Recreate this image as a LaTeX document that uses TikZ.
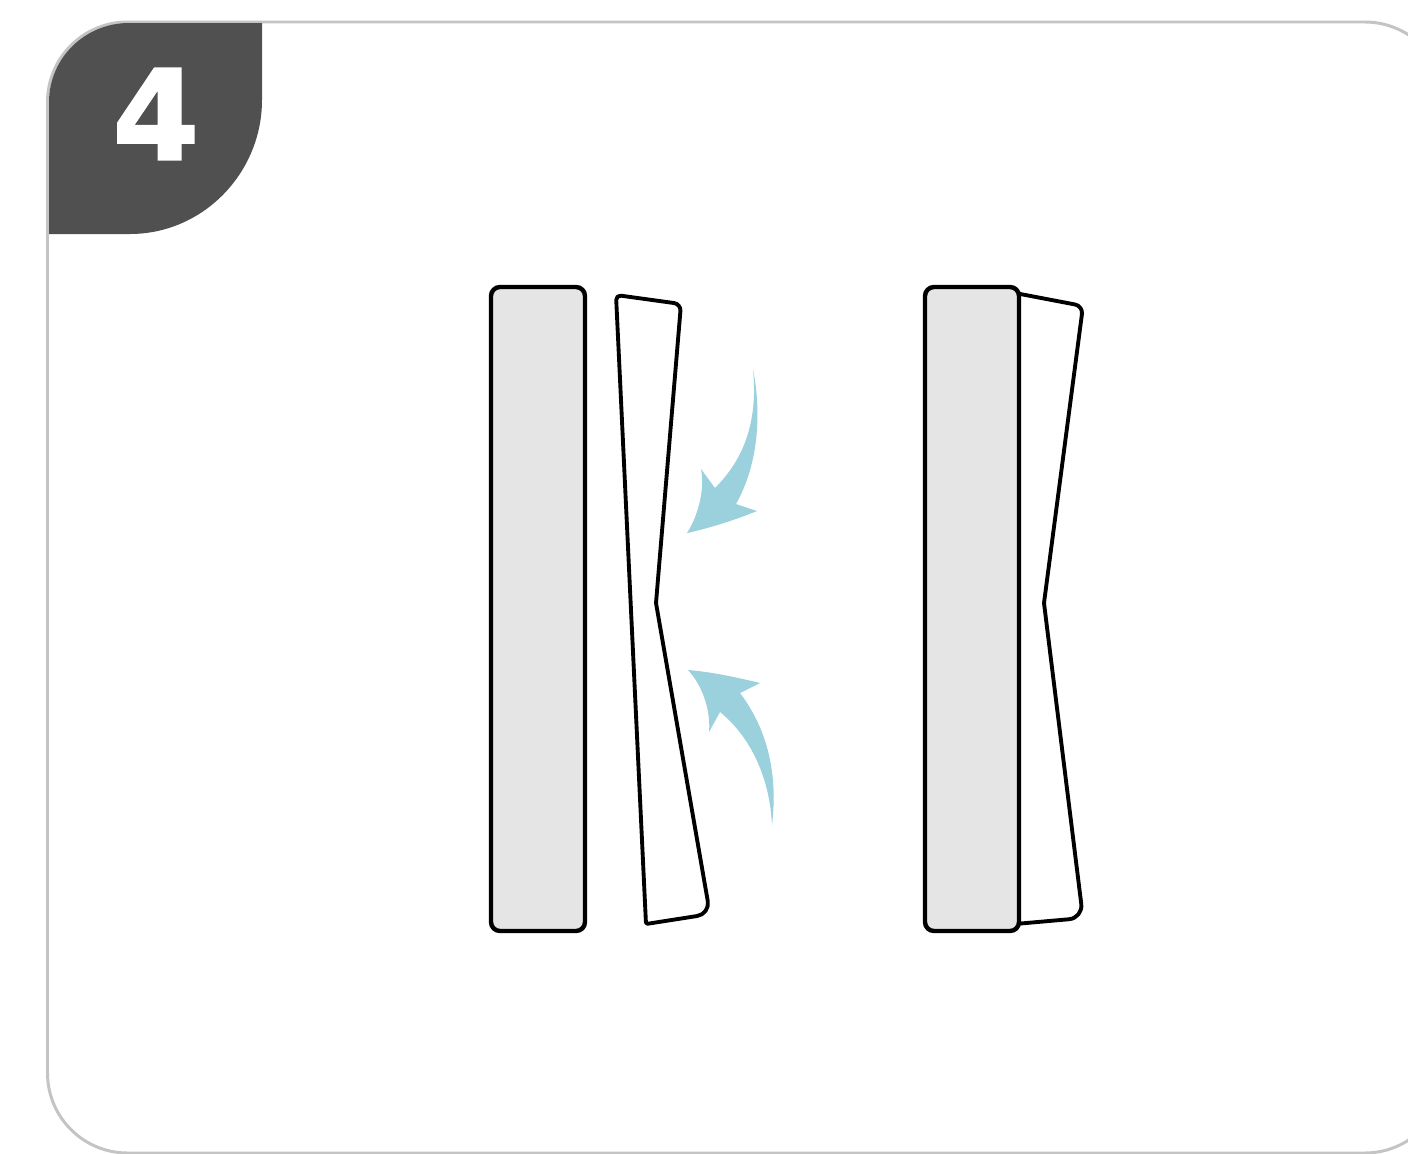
\documentclass[tikz,border=0pt]{standalone}
\usepackage{fontspec}
\setmainfont{DejaVu Sans}[BoldFeatures={FakeBold=1.6}]
\definecolor{cardline}{HTML}{C4C4C4}
\definecolor{badgegray}{HTML}{505050}
\definecolor{panelgray}{HTML}{E5E5E5}
\definecolor{arrowblue}{HTML}{9BD0DD}
\tikzset{
  panel/.style={draw=black, fill=panelgray, line width=1.25pt, rounded corners=.09cm},
  strip/.style={draw=black, fill=white, line width=1.1pt, line join=round},
  swoosh/.style={fill=arrowblue, draw=none},
}
\begin{document}
\begin{tikzpicture}[x=.01cm, y=-.01cm]
  \clip (0,0) rectangle (1408,1154);
  \fill[white] (0,0) rectangle (1408,1154);
  % card
  \draw[cardline, line width=.85pt, rounded corners=.8cm] (47.5,22) rectangle (1445,1153);
  % badge
  \coordinate (BA) at (49,234);
  \coordinate (BB) at (49,102);
  \coordinate (BC) at (129,23);
  \coordinate (BD) at (262,23);
  \coordinate (BE) at (262,100);
  \coordinate (BF) at (130,234);
  \fill[badgegray] (BA)--(BB) .. controls (49,58) and (85,23) .. (BC)--(BD)--(BE)
    .. controls (262,173) and (203,234) .. (BF)--cycle;
  \node[text=white, inner sep=0pt, font=\fontsize{35.5}{40}\selectfont\bfseries] (num) at (156,114) {4};
  % left pair
  \coordinate (LM) at (631,610);
  \coordinate (LA) at (616,295);
  \coordinate (LB) at (681,304);
  \coordinate (LC) at (656,603);
  \coordinate (LD) at (710,914);
  \coordinate (LE) at (646,924);
  \draw[strip] (LM) [rounded corners=.05cm] -- (LA) [rounded corners=.07cm] -- (LB) [rounded corners=.01cm] -- (LC)
    [rounded corners=.13cm] -- (LD) [rounded corners=.02cm] -- (LE) [sharp corners] -- cycle;
  \draw[panel] (491,287) rectangle (585,931);
  % right pair
  \coordinate (RA) at (1015,293);
  \coordinate (RB) at (1083,306);
  \coordinate (RC) at (1044,603);
  \coordinate (RD) at (1083,918);
  \coordinate (RE) at (1015,924);
  \draw[strip] (RA) [rounded corners=.08cm] -- (RB) [rounded corners=.01cm] -- (RC)
    [rounded corners=.14cm] -- (RD) [sharp corners] -- (RE);
  \draw[panel] (925,287) rectangle (1019,931);
  % upper arrow
  \coordinate (UT) at (753,369);
  \coordinate (UH) at (687,533);
  \fill[swoosh] (UT) .. controls (762,415) and (758,465) .. (736,504) -- (757,511)
    .. controls (735,520) and (710,528) .. (UH)
    .. controls (698,516) and (705,490) .. (701,469) -- (715,488)
    .. controls (745,458) and (758,420) .. cycle;
  % lower arrow
  \coordinate (DT) at (772,825);
  \coordinate (DH) at (688,670);
  \fill[swoosh] (DT) .. controls (778,775) and (768,730) .. (740,693) -- (760,683)
    .. controls (735,677) and (712,672) .. (DH)
    .. controls (702,685) and (711,710) .. (709,732) -- (720,712)
    .. controls (752,738) and (770,780) .. cycle;
\end{tikzpicture}
\end{document}
